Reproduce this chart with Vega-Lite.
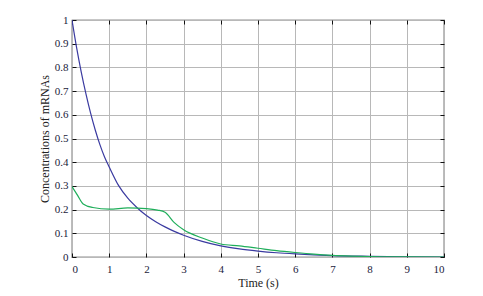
{
  "$schema": "https://vega.github.io/schema/vega-lite/v6.json",
  "width": 372,
  "height": 237,
  "autosize": {"type": "none"},
  "padding": {"left": 72, "top": 20, "right": 39, "bottom": 39},
  "background": "white",
  "config": {
    "view": {"stroke": "#222", "strokeWidth": 1.2},
    "font": "Liberation Serif"
  },
  "data": {
    "values": [
      {"t": 0, "v": 1.0, "s": "blue"},
      {"t": 0.125, "v": 0.882, "s": "blue"},
      {"t": 0.25, "v": 0.779, "s": "blue"},
      {"t": 0.375, "v": 0.688, "s": "blue"},
      {"t": 0.5, "v": 0.607, "s": "blue"},
      {"t": 0.625, "v": 0.536, "s": "blue"},
      {"t": 0.75, "v": 0.474, "s": "blue"},
      {"t": 0.875, "v": 0.422, "s": "blue"},
      {"t": 1.0, "v": 0.38, "s": "blue"},
      {"t": 1.25, "v": 0.302, "s": "blue"},
      {"t": 1.5, "v": 0.248, "s": "blue"},
      {"t": 1.75, "v": 0.208, "s": "blue"},
      {"t": 2.0, "v": 0.175, "s": "blue"},
      {"t": 2.25, "v": 0.149, "s": "blue"},
      {"t": 2.5, "v": 0.127, "s": "blue"},
      {"t": 2.75, "v": 0.108, "s": "blue"},
      {"t": 3.0, "v": 0.092, "s": "blue"},
      {"t": 3.5, "v": 0.066, "s": "blue"},
      {"t": 4.0, "v": 0.047, "s": "blue"},
      {"t": 4.5, "v": 0.034, "s": "blue"},
      {"t": 5.0, "v": 0.025, "s": "blue"},
      {"t": 5.5, "v": 0.018, "s": "blue"},
      {"t": 6.0, "v": 0.013, "s": "blue"},
      {"t": 7.0, "v": 0.006, "s": "blue"},
      {"t": 8.0, "v": 0.003, "s": "blue"},
      {"t": 9.0, "v": 0.001, "s": "blue"},
      {"t": 10.0, "v": 0.0, "s": "blue"},
      {"t": 0, "v": 0.297, "s": "green"},
      {"t": 0.15, "v": 0.26, "s": "green"},
      {"t": 0.3, "v": 0.224, "s": "green"},
      {"t": 0.56, "v": 0.209, "s": "green"},
      {"t": 1.0, "v": 0.202, "s": "green"},
      {"t": 1.5, "v": 0.207, "s": "green"},
      {"t": 2.0, "v": 0.204, "s": "green"},
      {"t": 2.3, "v": 0.198, "s": "green"},
      {"t": 2.5, "v": 0.189, "s": "green"},
      {"t": 2.75, "v": 0.145, "s": "green"},
      {"t": 3.0, "v": 0.115, "s": "green"},
      {"t": 3.5, "v": 0.08, "s": "green"},
      {"t": 4.0, "v": 0.055, "s": "green"},
      {"t": 4.5, "v": 0.047, "s": "green"},
      {"t": 5.0, "v": 0.037, "s": "green"},
      {"t": 5.5, "v": 0.027, "s": "green"},
      {"t": 6.0, "v": 0.019, "s": "green"},
      {"t": 6.5, "v": 0.012, "s": "green"},
      {"t": 7.0, "v": 0.007, "s": "green"},
      {"t": 7.5, "v": 0.004, "s": "green"},
      {"t": 8.0, "v": 0.002, "s": "green"},
      {"t": 9.0, "v": 0.0005, "s": "green"},
      {"t": 10.0, "v": 0.0, "s": "green"}
    ]
  },
  "layer": [
    {
      "mark": {"type": "line", "strokeWidth": 1.2, "clip": true, "interpolate": "monotone"},
      "encoding": {
        "x": {
          "field": "t", "type": "quantitative",
          "scale": {"domain": [0, 10], "nice": false},
          "axis": {
            "title": "Time (s)", "titleFont": "Liberation Serif", "titleFontSize": 12, "titleFontWeight": "normal",
            "titleColor": "#222", "titlePadding": 3,
            "values": [0,1,2,3,4,5,6,7,8,9,10],
            "labelFont": "Liberation Serif", "labelFontSize": 11, "labelColor": "#1a1a3a", "labelPadding": 10,
            "tickSize": -4, "tickColor": "#111", "domain": false,
            "grid": true, "gridColor": "#b8b8b8", "gridWidth": 1
          }
        },
        "y": {
          "field": "v", "type": "quantitative",
          "scale": {"domain": [0, 1], "nice": false},
          "axis": {
            "title": "Concentrations of mRNAs", "titleFont": "Liberation Serif", "titleFontSize": 12, "titleFontWeight": "normal",
            "titleColor": "#222", "titlePadding": 3,
            "values": [0,0.1,0.2,0.3,0.4,0.5,0.6,0.7,0.8,0.9,1],
            "format": ".1~f",
            "labelFont": "Liberation Serif", "labelFontSize": 11, "labelColor": "#1a1a3a", "labelPadding": 8,
            "tickSize": -4, "tickColor": "#111", "domain": false,
            "grid": true, "gridColor": "#b8b8b8", "gridWidth": 1
          }
        },
        "color": {
          "field": "s", "type": "nominal",
          "scale": {"domain": ["blue", "green"], "range": ["#3a3aa0", "#1fae5a"]},
          "legend": null
        }
      }
    },
    {
      "mark": {"type": "line", "opacity": 0},
      "encoding": {
        "x": {
          "field": "t", "type": "quantitative",
          "axis": {"orient": "top", "title": null, "labels": false, "grid": false, "domain": false,
                   "values": [0,1,2,3,4,5,6,7,8,9,10], "tickSize": -4, "tickColor": "#111"}
        },
        "y": {
          "field": "v", "type": "quantitative",
          "axis": {"orient": "right", "title": null, "labels": false, "grid": false, "domain": false,
                   "values": [0,0.1,0.2,0.3,0.4,0.5,0.6,0.7,0.8,0.9,1], "tickSize": -4, "tickColor": "#111"}
        },
        "detail": {"field": "s"}
      }
    }
  ],
  "resolve": {"axis": {"x": "independent", "y": "independent"}}
}
